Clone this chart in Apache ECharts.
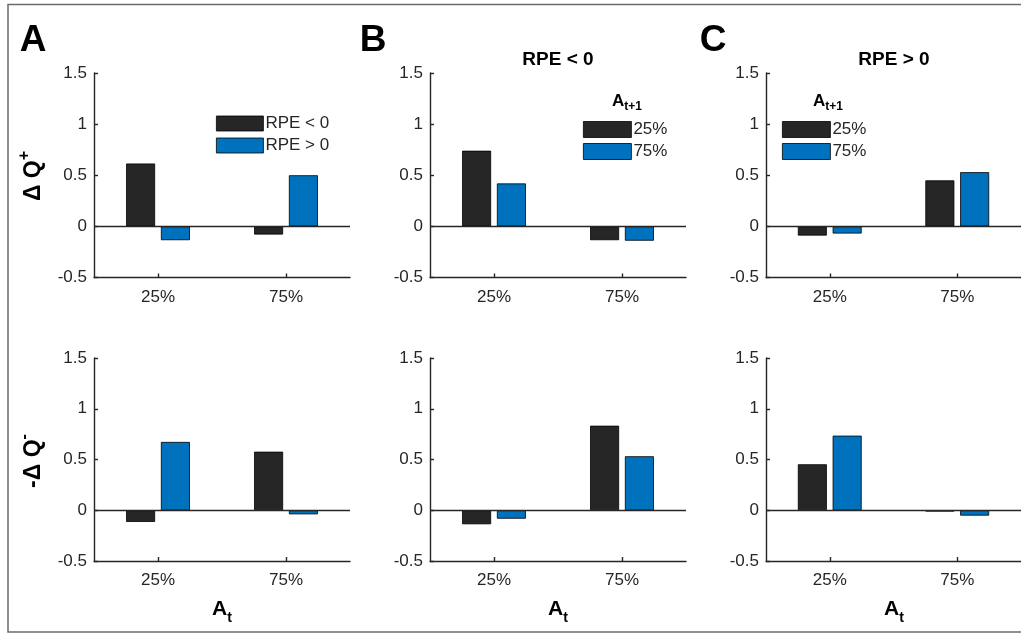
<!DOCTYPE html>
<html>
<head>
<meta charset="utf-8">
<script src="https://cdn.jsdelivr.net/npm/echarts@6/dist/echarts.min.js"></script>
<style>
html,body{margin:0;padding:0;background:#fff;}
#chart{width:1021px;height:633px;}
</style>
</head>
<body>
<div id="chart"></div>
<script>
// ---- data ----
const categories = ['25%', '75%'];
const yTicks = [-0.5, 0, 0.5, 1, 1.5];

// Row 1: ΔQ+
const A_top_rpeNeg = [0.615, -0.08];
const A_top_rpePos = [-0.135, 0.50];
const B_top_next25 = [0.74, -0.135];
const B_top_next75 = [0.42, -0.14];
const C_top_next25 = [-0.09, 0.45];
const C_top_next75 = [-0.07, 0.53];

// Row 2: -ΔQ-
const A_bot_rpeNeg = [-0.115, 0.577];
const A_bot_rpePos = [0.673, -0.04];
const B_bot_next25 = [-0.138, 0.833];
const B_bot_next75 = [-0.083, 0.532];
const C_bot_next25 = [0.453, -0.013];
const C_bot_next75 = [0.735, -0.053];

const legendA = ['RPE < 0', 'RPE > 0'];
const legendBC = ['25%', '75%'];
const panelTitles = ['RPE < 0', 'RPE > 0'];

// ---- styling ----
const FONT = '"Liberation Sans", Arial, Helvetica, sans-serif';
const TXT = '#262626';
const DARK = '#262626';
const BLUE = '#0072BD';

const colLeft = [94, 430, 766];
const rowTop = [73, 358];
const gridW = 256, gridH = [204.5, 203];

const grids = [], xAxes = [], yAxes = [], series = [];
const panelData = [
  [[A_top_rpeNeg, A_top_rpePos, legendA], [B_top_next25, B_top_next75, legendBC], [C_top_next25, C_top_next75, legendBC]],
  [[A_bot_rpeNeg, A_bot_rpePos, legendA], [B_bot_next25, B_bot_next75, legendBC], [C_bot_next25, C_bot_next75, legendBC]]
];

let idx = 0;
for (let r = 0; r < 2; r++) {
  for (let c = 0; c < 3; c++) {
    grids.push({left: colLeft[c], top: rowTop[r], width: gridW, height: gridH[r]});
    xAxes.push({
      type: 'category', gridIndex: idx, data: categories,
      axisLine: {onZero: false, lineStyle: {color: DARK, width: 1.4}},
      axisTick: {show: true, inside: true, alignWithLabel: true, length: 4, lineStyle: {color: DARK, width: 1.4}},
      axisLabel: {fontSize: 17, color: TXT, fontFamily: FONT, margin: 11}
    });
    yAxes.push({
      type: 'value', gridIndex: idx, min: yTicks[0], max: yTicks[yTicks.length - 1], interval: 0.5,
      axisLine: {show: true, lineStyle: {color: DARK, width: 1.4}},
      axisTick: {show: true, inside: true, length: 4, lineStyle: {color: DARK, width: 1.4}},
      splitLine: {show: false},
      axisLabel: {fontSize: 17, color: TXT, fontFamily: FONT, margin: 7}
    });
    const [d1, d2, names] = panelData[r][c];
    const common = {type: 'bar', xAxisIndex: idx, yAxisIndex: idx, barWidth: 29, barGap: '20%', animation: false};
    series.push(Object.assign({}, common, {
      name: names[0], data: d1,
      itemStyle: {color: DARK, borderColor: '#000', borderWidth: 0.8},
      markLine: {silent: true, symbol: 'none', label: {show: false}, animation: false,
        lineStyle: {color: DARK, width: 1.4, type: 'solid'}, data: [{yAxis: 0}]}
    }));
    series.push(Object.assign({}, common, {
      name: names[1], data: d2,
      itemStyle: {color: BLUE, borderColor: '#000', borderWidth: 0.8}
    }));
    idx++;
  }
}

const legendCommon = {orient: 'vertical', icon: 'rect', itemGap: 5, selectedMode: false, padding: 0,
  itemStyle: {borderColor: '#000', borderWidth: 0.8},
  textStyle: {fontSize: 17, color: TXT, fontFamily: FONT, lineHeight: 15, padding: [0, 0, 0, -3]}};

const richSub = {
  m: {fontSize: 21, fontWeight: 'bold', fontFamily: FONT, color: '#000', lineHeight: 32},
  b: {fontSize: 14, fontWeight: 'bold', fontFamily: FONT, color: '#000', lineHeight: 14, verticalAlign: 'bottom'},
  s: {fontSize: 15, fontWeight: 'bold', fontFamily: FONT, color: '#000', lineHeight: 15, verticalAlign: 'top'}
};
const richY = {
  m: {fontSize: 23, fontWeight: 'bold', fontFamily: FONT, color: '#000', lineHeight: 34},
  s: {fontSize: 16, fontWeight: 'bold', fontFamily: FONT, color: '#000', lineHeight: 16, verticalAlign: 'top'}
};
const richLeg = {
  m: {fontSize: 17, fontWeight: 'bold', fontFamily: FONT, color: '#000', lineHeight: 24},
  b: {fontSize: 12, fontWeight: 'bold', fontFamily: FONT, color: '#000', lineHeight: 12, verticalAlign: 'bottom'}
};

function txt(x, y, text, font, opts) {
  return {type: 'text', x: x, y: y, silent: true,
    style: Object.assign({text: text, font: font, fill: '#000', align: 'center', textAlign: 'center',
      verticalAlign: 'middle', textVerticalAlign: 'middle'}, opts || {})};
}

const graphic = [
  {type: 'rect', silent: true, shape: {x: 8, y: 4.5, width: 1040, height: 627.5},
   style: {fill: 'none', stroke: '#6b6b6b', lineWidth: 1.5}},
  txt(33, 41, 'A', 'bold 37px ' + FONT),
  txt(373, 41, 'B', 'bold 37px ' + FONT),
  txt(713, 41, 'C', 'bold 37px ' + FONT),
  txt(558, 60, panelTitles[0], 'bold 19px ' + FONT),
  txt(894, 60, panelTitles[1], 'bold 19px ' + FONT),
  // x-axis titles
  txt(222, 609, '{m|A}{b|t}', 'bold 21px ' + FONT, {rich: richSub}),
  txt(558, 609, '{m|A}{b|t}', 'bold 21px ' + FONT, {rich: richSub}),
  txt(894, 609, '{m|A}{b|t}', 'bold 21px ' + FONT, {rich: richSub}),
  // legend titles
  txt(627, 101, '{m|A}{b|t+1}', 'bold 17px ' + FONT, {rich: richLeg}),
  txt(828, 101, '{m|A}{b|t+1}', 'bold 17px ' + FONT, {rich: richLeg}),
  // y-axis titles (rotated)
  Object.assign(txt(34, 176, '{m|\u0394 Q}{s|+}', 'bold 23px ' + FONT, {rich: richY}), {rotation: Math.PI / 2}),
  Object.assign(txt(34, 461, '{m|-\u0394 Q}{s|-}', 'bold 23px ' + FONT, {rich: richY}), {rotation: Math.PI / 2})
];

const chart = echarts.init(document.getElementById('chart'), null, {renderer: 'canvas'});
chart.setOption({
  animation: false,
  backgroundColor: '#fff',
  textStyle: {fontFamily: FONT},
  grid: grids,
  xAxis: xAxes,
  yAxis: yAxes,
  legend: [
    Object.assign({}, legendCommon, {data: legendA, left: 216, top: 115, itemWidth: 47, itemHeight: 15}),
    Object.assign({}, legendCommon, {data: legendBC, left: 583, top: 121, itemWidth: 48, itemHeight: 16}),
    Object.assign({}, legendCommon, {data: legendBC, left: 782, top: 121, itemWidth: 48, itemHeight: 16})
  ],
  graphic: graphic,
  series: series
});
</script>
</body>
</html>
